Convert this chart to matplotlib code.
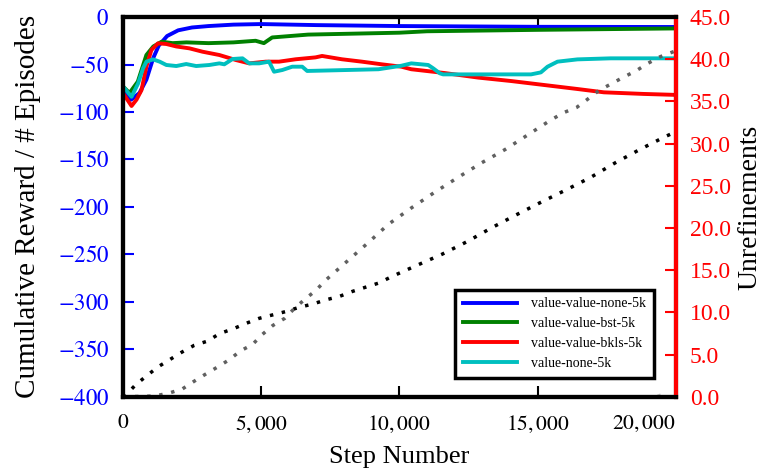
import matplotlib
matplotlib.use("Agg")
import matplotlib.pyplot as plt
from matplotlib.ticker import FuncFormatter

plt.rcParams['font.family'] = ['Liberation Serif', 'DejaVu Serif']
plt.rcParams['mathtext.fontset'] = 'stix'

# reward curves (left axis)
blue_x = [0, 300, 600, 850, 1100, 1300, 1600, 2000, 2500, 3100, 4000, 5000, 7000, 10000, 15000, 20000]
blue_y = [-75, -87, -80, -66, -43, -30, -20, -14, -11, -9.5, -8, -7.4, -8.5, -9.5, -10.3, -10.5]

green_x = [0, 240, 540, 850, 1100, 1400, 1800, 2300, 3100, 4000, 4800, 5100, 5400, 6700, 10000, 11000, 15000, 20000]
green_y = [-73, -80, -68, -40, -31, -26, -27.5, -26.7, -27.5, -26.7, -25, -27.5, -21.5, -18.5, -16.5, -15, -13.5, -12]

red_x = [0, 313, 493, 673, 852, 1032, 1270, 1572, 1932, 2410, 2878, 3489, 4090, 4568, 5169, 5648,
         6248, 6967, 7205, 7925, 8644, 9363, 10072, 10431, 11643, 12855, 14042, 15241, 16440, 17399,
         18838, 20000]
red_y = [-80, -93.7, -87, -77, -52, -34.7, -27.7, -28.4, -31, -33, -36.5, -40, -45.3, -48.8, -47, -47,
         -44.5, -42.5, -41, -44.5, -47, -49.8, -52.3, -55, -59, -63.8, -67.4, -71.6, -75.8, -79.3,
         -81, -82]

cyan_x = [0, 313, 550, 730, 852, 1090, 1331, 1572, 1932, 2291, 2651, 3129, 3489, 3669, 3968, 4327,
          4568, 4928, 5288, 5468, 5766, 6126, 6486, 6665, 9244, 10072, 10431, 11043, 11223, 11464,
          11583, 12855, 14762, 15118, 15359, 15719, 16440, 17636, 20000]
cyan_y = [-73, -84, -70, -54, -47, -44.6, -47, -50.5, -51.6, -49.5, -51.6, -50.5, -48.8, -49.8, -44.2,
          -43.5, -48.8, -48.8, -47, -57.6, -55.8, -52.3, -52.3, -56.8, -55, -51.3, -48.8, -50.5, -54,
          -59.3, -60.4, -60.4, -60.4, -58.3, -52.3, -47, -44.6, -43.5, -43.5]

# unrefinement counts (right axis)
unref_a_x = [0, 133, 468, 863, 1270, 1691, 2134, 2579, 3058, 3500, 3982, 4450, 4928, 5406, 5888, 6367,
             6871, 7349, 7831, 8309, 8788, 9270, 9723, 10647, 11546, 12456, 13320, 14219, 15118, 16017,
             16917, 17793, 18693, 19593, 20000]
unref_a_y = [0, 0.3, 1.45, 2.5, 3.55, 4.4, 5.3, 6.1, 6.6, 7.5, 8.05, 8.7, 9.3, 9.7, 10.1, 10.6, 11.0,
             11.5, 11.9, 12.5, 13.0, 13.5, 14.25, 15.6, 16.9, 18.4, 20.0, 21.55, 23.05, 24.5, 26.0, 27.7,
             29.3, 30.8, 31.4]

unref_b_x = [0, 1151, 1666, 2158, 2579, 2997, 3407, 3849, 4255, 4687, 5046, 5421, 5853, 6212, 6594,
             6978, 7327, 8885, 9604, 10420, 11259, 12122, 12960, 13823, 14676, 15478, 15962, 16417,
             16824, 17219, 17673, 18119, 18550, 18982, 19437, 20000]
unref_b_y = [0, 0.1, 0.44, 0.95, 1.85, 2.7, 3.5, 4.4, 5.45, 6.2, 7.4, 8.45, 9.3, 10.5, 11.6, 12.6, 13.8,
             18.3, 20.45, 22.35, 24.2, 26.0, 27.7, 29.3, 31.1, 32.8, 33.7, 34.3, 35.3, 36.3, 37.1, 37.9,
             38.6, 39.5, 40.3, 41.0]

unref_c_x = [0, 19300, 19700]
unref_c_y = [0, 0, 0.5]

x_ticks = [0, 5000, 10000, 15000, 20000]
left_ticks = list(range(-400, 1, 50))
right_ticks = [i * 5.0 for i in range(10)]

fig = plt.figure(figsize=(7.68, 4.73), dpi=100)
ax = fig.add_axes([0.160, 0.161, 0.720, 0.803])

ax.plot(blue_x, blue_y, color='#0000ff', lw=2.8, label='value-value-none-5k')
ax.plot(green_x, green_y, color='#008000', lw=2.8, label='value-value-bst-5k')
ax.plot(red_x, red_y, color='#ff0000', lw=2.8, label='value-value-bkls-5k')
ax.plot(cyan_x, cyan_y, color='#00bfbf', lw=2.8, label='value-none-5k')

ax.set_xlim(0, 20000)
ax.set_ylim(-400, 0)
ax.set_xticks(x_ticks)
ax.set_yticks(left_ticks)
ax.xaxis.set_major_formatter(FuncFormatter(lambda v, p: '$' + format(int(v), ',') + '$'))
ax.yaxis.set_major_formatter(FuncFormatter(lambda v, p: '$%d$' % v))
ax.tick_params(axis='x', direction='in', length=8, width=1.5, top=True, labelsize=15.5, pad=12)
ax.tick_params(axis='y', direction='in', length=8, width=1.5, colors='#0000ff', labelsize=16.5, pad=10)
ax.set_xlabel('Step Number', fontsize=19, labelpad=8)
ax.set_ylabel('Cumulative Reward / # Episodes', fontsize=21, labelpad=12)
for s in ax.spines.values():
    s.set_linewidth(3)
# last x label sits inside the frame
ax.get_xticklabels()[-1].set_horizontalalignment('right')

leg = ax.legend(loc='lower right', bbox_to_anchor=(0.96, 0.05), borderaxespad=0, fontsize=10,
                handlelength=3.9, handletextpad=1.0, labelspacing=0.5, borderpad=0.55,
                fancybox=False, framealpha=1, edgecolor='black')
leg.get_frame().set_linewidth(2.5)

ax2 = ax.twinx()
dots = (0, (1, 2.5))
ax2.plot(unref_a_x, unref_a_y, color='black', lw=2.5, ls=dots)
ax2.plot(unref_b_x, unref_b_y, color='#606060', lw=2.5, ls=dots)
ax2.plot(unref_c_x, unref_c_y, color='#b0b0b0', lw=2.5, ls=dots)
ax2.set_ylim(0, 45)
ax2.set_yticks(right_ticks)
ax2.yaxis.set_major_formatter(FuncFormatter(lambda v, p: '%.1f' % v))
ax2.tick_params(axis='y', direction='in', length=8, width=1.5, colors='#ff0000', labelsize=17, pad=10)
ax2.spines['right'].set_color('#ff0000')
for s in ax2.spines.values():
    s.set_linewidth(3)
ax2.set_ylabel('Unrefinements', fontsize=20, labelpad=5)

# legend above the dotted lines
leg.remove()
ax2.add_artist(leg)

fig.savefig('out.png', dpi=100)
